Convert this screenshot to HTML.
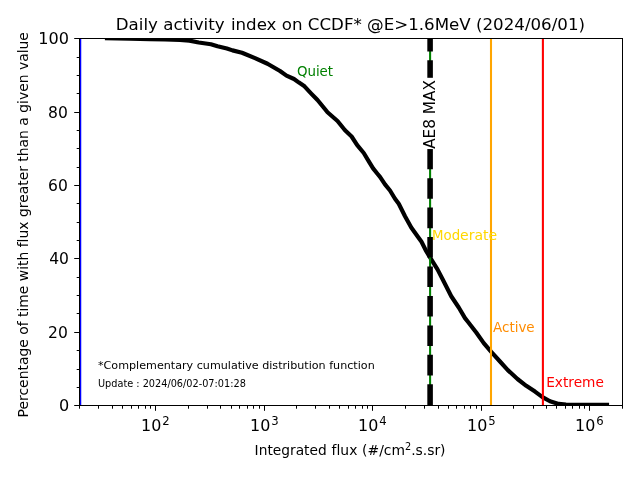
<!DOCTYPE html>
<html><head><meta charset="utf-8"><title>Daily activity index</title>
<style>
html,body{margin:0;padding:0;background:#fff;}
svg{display:block}
text{font-family:'DejaVu Sans','Liberation Sans',sans-serif;fill:#000;font-variant-ligatures:none;font-feature-settings:'liga' 0,'clig' 0}
</style></head><body>
<svg width="640" height="480" viewBox="0 0 640 480">
<rect width="640" height="480" fill="#fff"/>
<defs><clipPath id="ax"><rect x="80.0" y="38.4" width="542.4" height="367.0"/></clipPath></defs>
<g clip-path="url(#ax)">
<path d="M107.00,38.10 L130.00,38.60 L150.00,39.10 L165.00,39.50 L180.00,39.80 L189.40,40.60 L198.75,42.50 L210.90,44.20 L217.50,46.20 L226.90,48.50 L232.50,50.40 L242.00,52.70 L255.00,58.10 L267.50,63.75 L280.00,71.00 L286.50,75.60 L294.00,79.00 L299.00,82.60 L304.50,86.30 L311.00,93.30 L317.50,100.00 L325.50,109.80 L327.50,112.30 L337.50,121.00 L345.00,130.30 L351.60,136.50 L357.20,145.20 L363.75,153.00 L369.40,162.30 L373.10,168.40 L377.80,174.20 L380.00,176.90 L385.00,184.40 L390.00,190.50 L395.00,198.75 L398.75,203.75 L405.00,216.25 L411.25,227.50 L417.50,236.25 L421.50,241.80 L426.25,251.25 L431.25,259.40 L437.50,269.40 L443.00,280.00 L451.25,296.25 L458.75,307.50 L465.00,318.10 L467.50,321.25 L476.25,332.50 L483.75,343.10 L491.25,351.90 L500.00,361.50 L507.80,370.10 L517.50,379.00 L526.25,385.80 L535.00,391.60 L542.50,397.10 L550.00,401.25 L558.75,403.90 L566.00,404.60 L575.00,404.90 L607.00,404.95" fill="none" stroke="#000" stroke-width="4.17" stroke-linejoin="round" stroke-linecap="square"/>
<line x1="430.1" x2="430.1" y1="405.4" y2="38.4" stroke="#008000" stroke-width="2.08"/>
<line x1="430.1" x2="430.1" y1="406.4" y2="38.4" stroke="#000" stroke-width="5.56" stroke-dasharray="22.11 8.89 20.56 8.89 20.56 8.89 20.56 8.89 20.56 8.89 20.56 8.89 20.56 8.89 20.56 8.89 20.56 8.89 20.56 8.89 20.56 8.89 20.56 8.89 20.56 8.89"/>
<line x1="491" x2="491" y1="405.4" y2="38.4" stroke="#ffa500" stroke-width="2.08"/>
<line x1="542.9" x2="542.9" y1="405.4" y2="38.4" stroke="#ff0000" stroke-width="2.08"/>
<line x1="80" x2="80" y1="405.4" y2="38.4" stroke="#0000ff" stroke-width="2.5"/>
</g>

<rect x="419" y="77.8" width="22" height="71.25" fill="#fff"/>
<text transform="translate(435,148.85) rotate(-90)" font-size="15.28">AE8 MAX</text>
<rect x="79" y="38" width="1" height="368" fill="#000"/>
<rect x="622" y="38" width="1" height="368" fill="#000"/>
<rect x="79" y="38" width="544" height="1" fill="#000"/>
<rect x="79" y="405" width="544" height="1" fill="#000"/>
<rect x="74.2" y="405" width="4.8" height="1" fill="#000"/>
<text x="59.10" y="411.00" font-size="16.67" textLength="10.25" lengthAdjust="spacingAndGlyphs">0</text>
<rect x="76.7" y="387" width="2.8" height="1" fill="#000"/>
<rect x="76.7" y="369" width="2.8" height="1" fill="#000"/>
<rect x="76.7" y="350" width="2.8" height="1" fill="#000"/>
<rect x="74.2" y="332" width="4.8" height="1" fill="#000"/>
<text x="48.05" y="337.50" font-size="16.67" textLength="19.80" lengthAdjust="spacingAndGlyphs">20</text>
<rect x="76.7" y="313" width="2.8" height="1" fill="#000"/>
<rect x="76.7" y="295" width="2.8" height="1" fill="#000"/>
<rect x="76.7" y="277" width="2.8" height="1" fill="#000"/>
<rect x="74.2" y="258" width="4.8" height="1" fill="#000"/>
<text x="49.20" y="264.20" font-size="16.67" textLength="19.80" lengthAdjust="spacingAndGlyphs">40</text>
<rect x="76.7" y="240" width="2.8" height="1" fill="#000"/>
<rect x="76.7" y="222" width="2.8" height="1" fill="#000"/>
<rect x="76.7" y="203" width="2.8" height="1" fill="#000"/>
<rect x="74.2" y="185" width="4.8" height="1" fill="#000"/>
<text x="48.05" y="190.60" font-size="16.67" textLength="19.80" lengthAdjust="spacingAndGlyphs">60</text>
<rect x="76.7" y="167" width="2.8" height="1" fill="#000"/>
<rect x="76.7" y="148" width="2.8" height="1" fill="#000"/>
<rect x="76.7" y="130" width="2.8" height="1" fill="#000"/>
<rect x="74.2" y="112" width="4.8" height="1" fill="#000"/>
<text x="48.05" y="118.30" font-size="16.67" textLength="19.80" lengthAdjust="spacingAndGlyphs">80</text>
<rect x="76.7" y="93" width="2.8" height="1" fill="#000"/>
<rect x="76.7" y="75" width="2.8" height="1" fill="#000"/>
<rect x="76.7" y="57" width="2.8" height="1" fill="#000"/>
<rect x="74.2" y="38" width="4.8" height="1" fill="#000"/>
<text x="38.25" y="44.00" font-size="16.67" textLength="30.75" lengthAdjust="spacingAndGlyphs">100</text>
<rect x="79" y="405.5" width="1" height="3.2" fill="#000"/>
<rect x="98" y="405.5" width="1" height="3.2" fill="#000"/>
<rect x="112" y="405.5" width="1" height="3.2" fill="#000"/>
<rect x="122" y="405.5" width="1" height="3.2" fill="#000"/>
<rect x="131" y="405.5" width="1" height="3.2" fill="#000"/>
<rect x="138" y="405.5" width="1" height="3.2" fill="#000"/>
<rect x="145" y="405.5" width="1" height="3.2" fill="#000"/>
<rect x="150" y="405.5" width="1" height="3.2" fill="#000"/>
<rect x="155" y="405.5" width="1" height="5.3" fill="#000"/>
<text x="141.05" y="431.0" font-size="16.67" textLength="20.27" lengthAdjust="spacingAndGlyphs">10</text>
<text x="162.20" y="424.75" font-size="11.67">2</text>
<rect x="188" y="405.5" width="1" height="3.2" fill="#000"/>
<rect x="207" y="405.5" width="1" height="3.2" fill="#000"/>
<rect x="220" y="405.5" width="1" height="3.2" fill="#000"/>
<rect x="231" y="405.5" width="1" height="3.2" fill="#000"/>
<rect x="239" y="405.5" width="1" height="3.2" fill="#000"/>
<rect x="247" y="405.5" width="1" height="3.2" fill="#000"/>
<rect x="253" y="405.5" width="1" height="3.2" fill="#000"/>
<rect x="259" y="405.5" width="1" height="3.2" fill="#000"/>
<rect x="264" y="405.5" width="1" height="5.3" fill="#000"/>
<text x="250.05" y="431.0" font-size="16.67" textLength="20.27" lengthAdjust="spacingAndGlyphs">10</text>
<text x="271.20" y="424.75" font-size="11.67">3</text>
<rect x="296" y="405.5" width="1" height="3.2" fill="#000"/>
<rect x="315" y="405.5" width="1" height="3.2" fill="#000"/>
<rect x="329" y="405.5" width="1" height="3.2" fill="#000"/>
<rect x="339" y="405.5" width="1" height="3.2" fill="#000"/>
<rect x="348" y="405.5" width="1" height="3.2" fill="#000"/>
<rect x="355" y="405.5" width="1" height="3.2" fill="#000"/>
<rect x="362" y="405.5" width="1" height="3.2" fill="#000"/>
<rect x="367" y="405.5" width="1" height="3.2" fill="#000"/>
<rect x="372" y="405.5" width="1" height="5.3" fill="#000"/>
<text x="358.05" y="431.0" font-size="16.67" textLength="20.27" lengthAdjust="spacingAndGlyphs">10</text>
<text x="379.20" y="424.75" font-size="11.67">4</text>
<rect x="405" y="405.5" width="1" height="3.2" fill="#000"/>
<rect x="424" y="405.5" width="1" height="3.2" fill="#000"/>
<rect x="438" y="405.5" width="1" height="3.2" fill="#000"/>
<rect x="448" y="405.5" width="1" height="3.2" fill="#000"/>
<rect x="456" y="405.5" width="1" height="3.2" fill="#000"/>
<rect x="464" y="405.5" width="1" height="3.2" fill="#000"/>
<rect x="470" y="405.5" width="1" height="3.2" fill="#000"/>
<rect x="476" y="405.5" width="1" height="3.2" fill="#000"/>
<rect x="481" y="405.5" width="1" height="5.3" fill="#000"/>
<text x="467.05" y="431.0" font-size="16.67" textLength="20.27" lengthAdjust="spacingAndGlyphs">10</text>
<text x="488.20" y="424.75" font-size="11.67">5</text>
<rect x="513" y="405.5" width="1" height="3.2" fill="#000"/>
<rect x="533" y="405.5" width="1" height="3.2" fill="#000"/>
<rect x="546" y="405.5" width="1" height="3.2" fill="#000"/>
<rect x="556" y="405.5" width="1" height="3.2" fill="#000"/>
<rect x="565" y="405.5" width="1" height="3.2" fill="#000"/>
<rect x="572" y="405.5" width="1" height="3.2" fill="#000"/>
<rect x="579" y="405.5" width="1" height="3.2" fill="#000"/>
<rect x="584" y="405.5" width="1" height="3.2" fill="#000"/>
<rect x="589" y="405.5" width="1" height="5.3" fill="#000"/>
<text x="575.05" y="431.0" font-size="16.67" textLength="20.27" lengthAdjust="spacingAndGlyphs">10</text>
<text x="596.20" y="424.75" font-size="11.67">6</text>
<rect x="622" y="405.5" width="1" height="3.2" fill="#000"/>
<text y="30.0" font-size="16.67"><tspan x="115.78">Daily activity </tspan><tspan x="230.90">index on CCDF* @E&gt;1.6MeV (2024/06/01)</tspan></text>
<text y="454.8" font-size="13.89"><tspan x="254.6" textLength="72.1" lengthAdjust="spacingAndGlyphs">Integrated</tspan> <tspan x="331.6" textLength="25.8" lengthAdjust="spacingAndGlyphs">flux</tspan> <tspan x="362.1">(#/cm</tspan><tspan dy="-5.3" font-size="9.72">2</tspan><tspan dy="5.3">.s.sr)</tspan></text>
<text transform="translate(28,224.75) rotate(-90)" font-size="13.89" text-anchor="middle" textLength="385.3" lengthAdjust="spacingAndGlyphs">Percentage of time with flux greater than a given value</text>
<text x="296.9" y="76.3" font-size="13.89" style="fill:#008000" textLength="36.2" lengthAdjust="spacingAndGlyphs">Quiet</text>
<text y="239.5" font-size="13.89" style="fill:#ffd700"><tspan x="432" textLength="28.1" lengthAdjust="spacingAndGlyphs">Mod</tspan><tspan x="460.1" textLength="37.17" lengthAdjust="spacingAndGlyphs">erate</tspan></text>
<text x="493.0" y="331.5" font-size="13.89" style="fill:#ff8c00" textLength="41.65" lengthAdjust="spacingAndGlyphs">Active</text>
<text x="546.2" y="386.5" font-size="13.89" style="fill:#ff0000" textLength="57.65" lengthAdjust="spacingAndGlyphs">Extreme</text>
<text x="98" y="369.2" font-size="11.11" textLength="276.7" lengthAdjust="spacingAndGlyphs">*Complementary cumulative distribution function</text>
<text x="98" y="386.8" font-size="9.72">Update : 2024/06/02-07:01:28</text>
</svg></body></html>
